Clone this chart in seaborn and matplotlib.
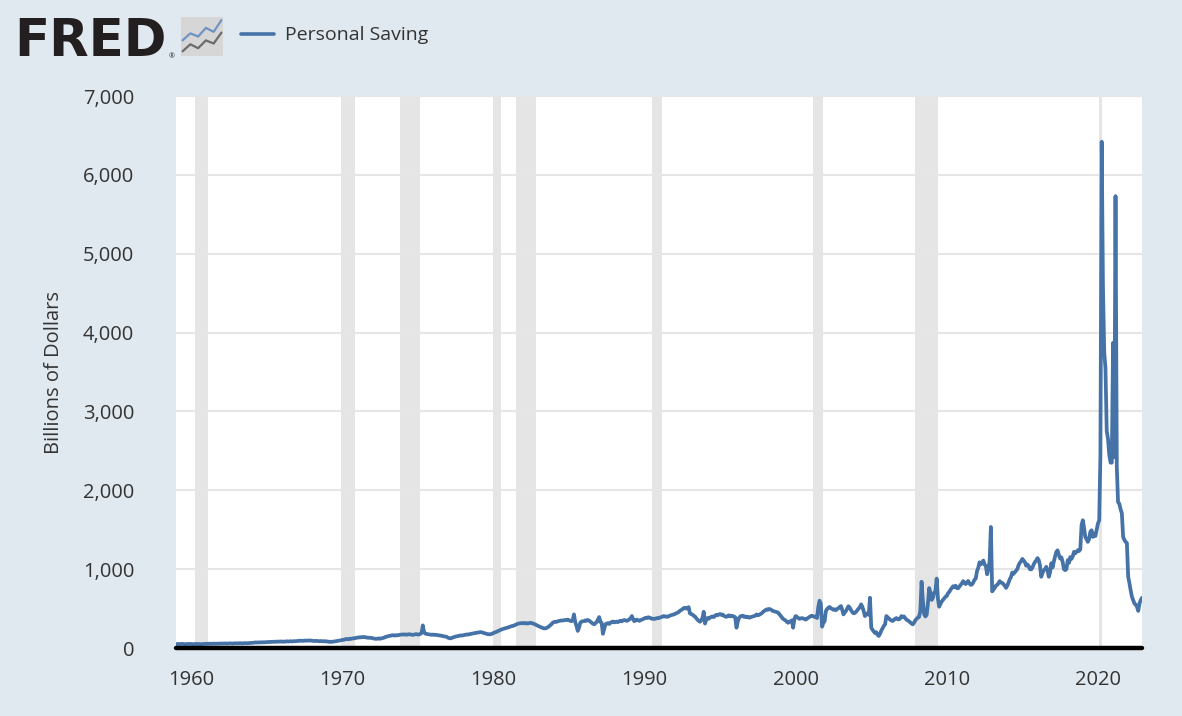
import numpy as np
import pandas as pd
import matplotlib
matplotlib.use('Agg')
import matplotlib.pyplot as plt
import seaborn as sns

# Personal Saving, billions of dollars, monthly (SAAR)
saving_1959_1969 = [
    48, 50, 52, 49, 51, 53, 50, 47, 49, 51, 50, 52,
    51, 49, 48, 50, 52, 49, 51, 50, 48, 50, 52, 53,
    52, 54, 53, 55, 52, 54, 56, 53, 55, 54, 56, 57,
    55, 57, 56, 58, 57, 55, 58, 59, 57, 56, 58, 60,
    58, 60, 59, 61, 60, 58, 61, 62, 60, 61, 63, 62,
    64, 66, 68, 70, 69, 71, 70, 72, 71, 73, 72, 74,
    74, 76, 75, 78, 77, 79, 80, 78, 81, 80, 82, 83,
    80, 82, 79, 83, 85, 82, 84, 86, 83, 85, 87, 86,
    88, 90, 92, 91, 93, 90, 94, 92, 95, 93, 96, 94,
    92, 90, 88, 91, 89, 87, 86, 88, 85, 87, 84, 86,
    82, 79, 80, 77, 79, 81, 84, 86, 89, 92, 95, 98,
]
saving_1970s = [
    100, 103, 107, 115, 112, 110, 118, 116, 120, 122, 125, 128,
    130, 135, 133, 138, 136, 140, 138, 134, 132, 129, 131, 127,
    125, 120, 118, 116, 119, 121, 117, 122, 125, 130, 138, 142,
    148, 152, 155, 158, 162, 160, 158, 163, 161, 165, 168, 170,
    172, 170, 173, 168, 171, 175, 172, 169, 166, 170, 174, 176,
    170, 172, 178, 190, 287, 200, 182, 178, 175, 172, 170, 168,
    170, 166, 168, 165, 162, 160, 158, 155, 150, 148, 145, 140,
    130, 125, 122, 128, 135, 140, 145, 148, 150, 155, 160, 158,
    162, 165, 168, 172, 170, 175, 178, 180, 185, 188, 192, 194,
    196, 200, 202, 198, 192, 188, 182, 178, 175, 173, 176, 180,
]
saving_1980s = [
    190, 196, 202, 210, 218, 225, 232, 238, 244, 248, 252, 257,
    262, 268, 275, 278, 282, 290, 298, 305, 310, 312, 315, 314,
    318, 312, 316, 310, 314, 318, 320, 312, 308, 300, 292, 284,
    275, 268, 262, 255, 250, 248, 252, 262, 272, 285, 300, 318,
    328, 333, 330, 338, 342, 345, 350, 348, 352, 356, 354, 360,
    352, 345, 340, 350, 426, 330, 280, 217, 260, 320, 335, 340,
    340, 350, 345, 355, 348, 335, 320, 310, 300, 315, 330, 360,
    392, 330, 320, 180, 240, 300, 310, 315, 305, 320, 330, 335,
    325, 330, 335, 328, 340, 345, 338, 350, 355, 348, 345, 352,
    365, 380, 405, 360, 340, 355, 360, 350, 345, 355, 360, 368,
]
saving_1990s = [
    375, 384, 380, 390, 385, 378, 370, 372, 368, 374, 380, 378,
    385, 390, 395, 405, 398, 402, 395, 400, 410, 415, 420, 425,
    430, 440, 445, 455, 470, 480, 490, 505, 510, 500, 505, 519,
    440, 430, 425, 410, 400, 380, 360, 345, 333, 350, 380, 460,
    310, 360, 380, 370, 385, 395, 400, 392, 410, 420, 415, 425,
    430, 420, 425, 410, 400, 395, 405, 415, 400, 410, 405, 400,
    390, 257, 330, 380, 400, 405, 410, 395, 400, 390, 395, 385,
    390, 395, 400, 405, 410, 426, 415, 420, 430, 440, 455, 470,
    480, 490, 485, 495, 490, 480, 470, 465, 460, 455, 450, 430,
    410, 390, 370, 360, 350, 333, 320, 330, 340, 350, 257, 370,
]
saving_2000s = [
    405, 395, 380, 370, 375, 380, 374, 368, 360, 372, 385, 395,
    405, 410, 400, 395, 400, 380, 520, 600, 560, 270, 320, 340,
    470, 495, 510, 520, 505, 495, 485, 490, 480, 495, 505, 520,
    532, 480, 426, 450, 470, 500, 530, 510, 480, 455, 440, 445,
    460, 480, 500, 520, 553, 520, 470, 405, 430, 440, 420, 637,
    257, 230, 210, 190, 200, 170, 152, 180, 220, 250, 280, 300,
    405, 390, 375, 360, 350, 342, 355, 370, 380, 365, 363, 375,
    405, 390, 400, 380, 360, 350, 340, 325, 310, 300, 320, 350,
    370, 384, 395, 470, 840, 600, 430, 400, 420, 560, 760, 700,
    610, 640, 700, 720, 880, 620, 523, 560, 590, 610, 632, 650,
]
saving_2010s = [
    660, 697, 710, 740, 760, 783, 770, 790, 760, 757, 780, 800,
    820, 848, 830, 810, 830, 850, 820, 800, 806, 830, 866, 880,
    975, 1020, 1087, 1060, 1080, 1109, 1059, 1040, 935, 1000, 1100, 1535,
    718, 740, 760, 790, 800, 820, 848, 830, 825, 810, 790, 762,
    790, 830, 870, 900, 957, 940, 960, 980, 1000, 1050, 1080, 1100,
    1130, 1110, 1090, 1043, 1060, 1040, 1000, 996, 1020, 1060, 1090, 1110,
    1140, 1114, 1050, 903, 950, 987, 1000, 1029, 980, 903, 960, 1076,
    1022, 1100, 1160, 1219, 1238, 1180, 1135, 1150, 1090, 1000, 987, 1000,
    1114, 1080, 1152, 1130, 1160, 1219, 1200, 1220, 1240, 1230, 1250, 1557,
    1620, 1520, 1409, 1380, 1346, 1380, 1472, 1493, 1409, 1450, 1420, 1500,
]
saving_2020s = [
    1578, 1620, 2450, 6420, 4600, 3750, 3550, 2750, 2650, 2450, 2350, 2350,
    3870, 2420, 5730, 2300, 1850, 1830, 1760, 1709, 1409, 1370, 1346, 1330,
    903, 820, 734, 650, 608, 565, 550, 523, 470, 565, 608, 637,
]

recession_starts = ['1960-04-01', '1969-12-01', '1973-11-01', '1980-01-01', '1981-07-01',
                    '1990-07-01', '2001-03-01', '2007-12-01', '2020-02-01']
recession_ends = ['1961-02-01', '1970-11-01', '1975-03-01', '1980-07-01', '1982-11-01',
                  '1991-03-01', '2001-11-01', '2009-06-01', '2020-04-01']

y_ticks = [0, 1000, 2000, 3000, 4000, 5000, 6000, 7000]
x_tick_years = [1960, 1970, 1980, 1990, 2000, 2010, 2020]

# little logo chart
icon_blue = [0.40, 0.58, 0.50, 0.72, 0.62, 0.92]
icon_grey = [0.12, 0.30, 0.20, 0.40, 0.32, 0.60]

values = saving_1959_1969 + saving_1970s + saving_1980s + saving_1990s + saving_2000s + saving_2010s + saving_2020s
df = pd.DataFrame({'date': pd.date_range('1959-01-01', periods=len(values), freq='MS'),
                   'saving': values})

sns.set_style('white')
plt.rcParams['font.family'] = ['Open Sans', 'DejaVu Sans']

BG = '#e1e9f0'
BLUE = '#4572a7'
TXT = '#333333'

W, H = 1182, 716
fig = plt.figure(figsize=(W / 100, H / 100), dpi=100, facecolor=BG)
ax = fig.add_axes([176 / W, 1 - 648 / H, (1142 - 176) / W, (648 - 96) / H])
ax.set_facecolor('white')

for s, e in zip(recession_starts, recession_ends):
    ax.axvspan(pd.Timestamp(s), pd.Timestamp(e), color='#e5e5e5', lw=0, zorder=0)

for v in y_ticks[1:]:
    ax.axhline(v, color='#e6e6e6', lw=1.5, zorder=1)

sns.lineplot(data=df, x='date', y='saving', ax=ax, color=BLUE, linewidth=2.7, zorder=3)
ax.axhline(0, color='black', lw=3.2, zorder=4, clip_on=False)

ax.set_xlim(df['date'].iloc[0], df['date'].iloc[-1])
ax.set_ylim(0, 7000)
ax.set_yticks(y_ticks)
ax.set_yticklabels([f'{v:,}' for v in y_ticks])
ax.set_xticks([pd.Timestamp(f'{y}-01-01') for y in x_tick_years])
ax.set_xticklabels([str(y) for y in x_tick_years])
ax.tick_params(axis='y', length=0, pad=30, labelsize=14.5, labelcolor=TXT)
ax.tick_params(axis='x', length=13, width=1.2, color='#ccd6eb', pad=3,
               labelsize=14.5, labelcolor=TXT)
for sp in ax.spines.values():
    sp.set_visible(False)
ax.set_xlabel('')
ax.set_ylabel('Billions of Dollars', fontsize=14.5, color=TXT, labelpad=14)
ax.grid(False)

# header: logo + legend
fig.text(14 / W, 1 - 56 / H, 'FRED', fontsize=37, fontweight='bold',
         family='DejaVu Sans', color='#231f20', va='baseline', ha='left')
fig.text(169 / W, 1 - 58 / H, '®', fontsize=5, color='#231f20', va='baseline')
icon = fig.add_axes([181 / W, 1 - 56 / H, 42 / W, 39 / H])
icon.set_facecolor('#d6d6d6')
icon.plot(icon_grey, color='#6b6b6b', lw=1.6)
icon.plot(icon_blue, color='#6f93c4', lw=1.6)
icon.set_xlim(-0.2, 5.2)
icon.set_ylim(0, 1)
icon.set_xticks([])
icon.set_yticks([])
for sp in icon.spines.values():
    sp.set_visible(False)

fig.add_artist(plt.Line2D([241 / W, 274 / W], [1 - 34 / H, 1 - 34 / H],
                          color=BLUE, lw=2.6, transform=fig.transFigure))
fig.text(285 / W, 1 - 40 / H, 'Personal Saving', fontsize=14, color=TXT,
         va='baseline', ha='left')

fig.savefig('out.png', dpi=100, facecolor=BG)
